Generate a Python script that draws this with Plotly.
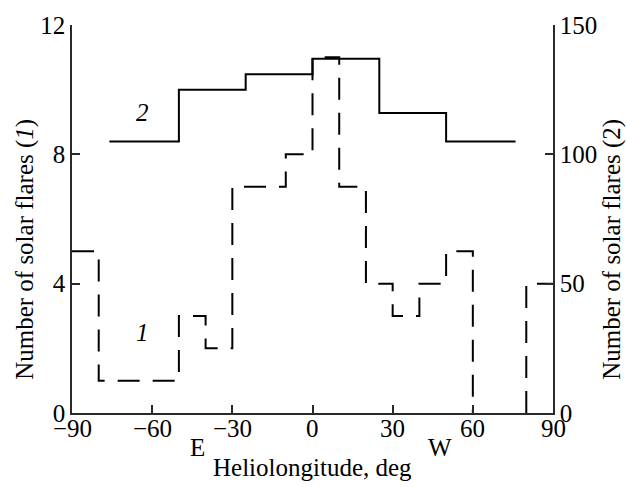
import plotly.graph_objects as go

# Series 1 (left axis): 10-degree bins, dashed
s1_edges = [-90, -80, -70, -60, -50, -40, -30, -20, -10, 0, 10, 20, 30, 40, 50, 60, 70, 80, 90]
s1_values = [5, 1, 1, 1, 3, 2, 7, 7, 8, 11, 7, 4, 3, 4, 5, 0, 0, 4]

# Series 2 (right axis): ~25-degree bins, solid
s2_edges = [-76, -50, -25, 0, 25, 50, 76]
s2_values = [105, 125, 131, 137, 116, 105]

x_ticks = [-90, -60, -30, 0, 30, 60, 90]
x_ticklabels = ["\u221290", "\u221260", "\u221230", "0", "30", "60", "90"]
y1_ticks = [0, 4, 8, 12]
y2_ticks = [0, 50, 100, 150]

FONT = "Liberation Serif, Times New Roman, serif"
FS = 25


def step_path(edges, values):
    """Histogram outline; zero-height bins leave a gap (they lie on the axis)."""
    xs, ys = [], []
    for i, v in enumerate(values):
        x0, x1 = edges[i], edges[i + 1]
        if v == 0:
            xs += [x0, None, x1]
            ys += [v, None, v]
        else:
            xs += [x0, x1]
            ys += [v, v]
    return xs, ys


s1_x, s1_y = step_path(s1_edges, s1_values)

fig = go.Figure()
fig.add_trace(go.Scatter(
    x=s1_x, y=s1_y, mode="lines", connectgaps=False,
    line=dict(color="black", width=2, dash="22px,13px"), yaxis="y", showlegend=False))
fig.add_trace(go.Scatter(
    x=s2_edges, y=s2_values + [s2_values[-1]], mode="lines", line_shape="hv",
    line=dict(color="black", width=2), yaxis="y2", showlegend=False))

axis_common = dict(showgrid=False, zeroline=False, showline=True, linecolor="#2a2a2a",
                   linewidth=1.5, ticks="inside", ticklen=8, tickcolor="#2a2a2a", tickwidth=1.5,
                   tickfont=dict(family=FONT, size=FS, color="black"))

fig.update_layout(
    width=626, height=487,
    margin=dict(l=72, r=73, t=23, b=74),
    paper_bgcolor="white", plot_bgcolor="white",
    font=dict(family=FONT, size=FS, color="black"),
    xaxis=dict(range=[-90, 90], tickvals=x_ticks, showticklabels=False, **axis_common),
    yaxis=dict(range=[0, 12], tickvals=y1_ticks, **axis_common),
    yaxis2=dict(range=[0, 150], tickvals=y2_ticks, overlaying="y", side="right", **axis_common),
)

ann = dict(showarrow=False, font=dict(family=FONT, size=FS, color="black"))
for xv, lab in zip(x_ticks, x_ticklabels):
    fig.add_annotation(x=xv, y=-0.041, xref="x", yref="paper", text=lab,
                       xanchor="center", yanchor="middle", **ann)
fig.add_annotation(x=-0.0977, y=0.4205, xref="paper", yref="paper", textangle=-90,
                   text="Number of solar flares (<i>1</i>)", xanchor="center", yanchor="middle", **ann)
fig.add_annotation(x=1.1227, y=0.4205, xref="paper", yref="paper", textangle=-90,
                   text="Number of solar flares (2)", xanchor="center", yanchor="middle", **ann)
fig.add_annotation(x=0.499, y=-0.141, xref="paper", yref="paper",
                   text="Heliolongitude, deg", xanchor="center", yanchor="middle", **ann)
fig.add_annotation(x=0.26, y=-0.0897, xref="paper", yref="paper",
                   text="E", xanchor="center", yanchor="middle", **ann)
fig.add_annotation(x=0.765, y=-0.0897, xref="paper", yref="paper",
                   text="W", xanchor="center", yanchor="middle", **ann)
fig.add_annotation(x=0.1476, y=0.7744, xref="paper", yref="paper",
                   text="<i>2</i>", xanchor="center", yanchor="middle", **ann)
fig.add_annotation(x=0.1476, y=0.2077, xref="paper", yref="paper",
                   text="<i>1</i>", xanchor="center", yanchor="middle", **ann)

fig.write_html("out.html")
